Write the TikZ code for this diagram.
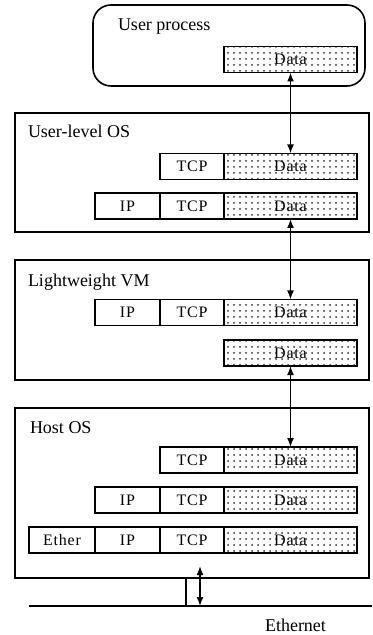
\documentclass[tikz,border=0pt]{standalone}
\usepackage{fontspec}
\setmainfont{Liberation Serif}
\newfontfamily\pktfont[LetterSpace=5]{Liberation Serif}
\usetikzlibrary{positioning}
\usetikzlibrary{arrows,arrows.meta,patterns}

\tikzset{
  layer/.style={draw, line width=0.8pt},
  hdr/.style={draw, line width=0.8pt, minimum height=13pt, font=\pktfont\fontsize{8}{9}\selectfont},
  payload/.style={hdr, minimum width=66.5pt, pattern=dots, pattern color=black!80},
  title/.style={anchor=west, font=\fontsize{9}{10}\selectfont}
}

\begin{document}
\begin{tikzpicture}[every node/.style={inner sep=0pt, outer sep=0pt}, x=0.5pt, y=-0.5pt, >={Latex[length=4.5pt,width=3.5pt]}]
\useasboundingbox (0,0) rectangle (372,635);
% user process
\draw[layer, rounded corners=9pt] (93,5) rectangle (365,86);
\node[title] (up) at (118,27) {User process};
\node[payload] (upd) at (290.5,59.5) {Data};
% user-level OS
\draw[layer] (15,113) rectangle (369,232);
\node[title] (ulos) at (28,131) {User-level OS};
\node[payload] (ud1) at (290.5,166.5) {Data};
\node[hdr, minimum width=32pt, left=0pt of ud1] (ut1) {TCP};
\node[payload] (ud2) at (290.5,206) {Data};
\node[hdr, minimum width=32pt, left=0pt of ud2] (ut2) {TCP};
\node[hdr, minimum width=32.5pt, left=0pt of ut2] (ui2) {IP};
% lightweight VM
\draw[layer] (15,260) rectangle (369,380);
\node[title] (lvm) at (28,282) {Lightweight VM};
\node[payload] (ld1) at (290.5,312.5) {Data};
\node[hdr, minimum width=32pt, left=0pt of ld1] (lt1) {TCP};
\node[hdr, minimum width=32.5pt, left=0pt of lt1] (li1) {IP};
\node[payload] (ld2) at (290.5,353) {Data};
% host OS
\draw[layer] (15,408) rectangle (369,578);
\node[title] (hos) at (30,428) {Host OS};
\node[payload] (hd1) at (290.5,460) {Data};
\node[hdr, minimum width=32pt, left=0pt of hd1] (ht1) {TCP};
\node[payload] (hd2) at (290.5,500) {Data};
\node[hdr, minimum width=32pt, left=0pt of hd2] (ht2) {TCP};
\node[hdr, minimum width=32.5pt, left=0pt of ht2] (hi2) {IP};
\node[payload] (hd3) at (290.5,540) {Data};
\node[hdr, minimum width=32pt, left=0pt of hd3] (ht3) {TCP};
\node[hdr, minimum width=32.5pt, left=0pt of ht3] (hi3) {IP};
\node[hdr, minimum width=33pt, left=0pt of hi3] (he3) {Ether};
% copies between layers
\draw[<->, line width=0.8pt] (upd.south) -- (ud1.north);
\draw[<->, line width=0.8pt] (ud2.south) -- (ld1.north);
\draw[<->, line width=0.8pt] (ld2.south) -- (hd1.north);
% ethernet
\coordinate (hbot) at (186,578);
\coordinate (ewest) at (29,606);
\coordinate (eeast) at (372,606);
\coordinate (atop) at (200,566);
\draw[line width=0.8pt] (ewest) -- (eeast);
\draw[line width=0.8pt] (hbot) -- (hbot |- ewest);
\draw[<->, line width=0.8pt] (atop) -- (atop |- ewest);
\node[title] (eth) at (265,625) {Ethernet};
\end{tikzpicture}
\end{document}
